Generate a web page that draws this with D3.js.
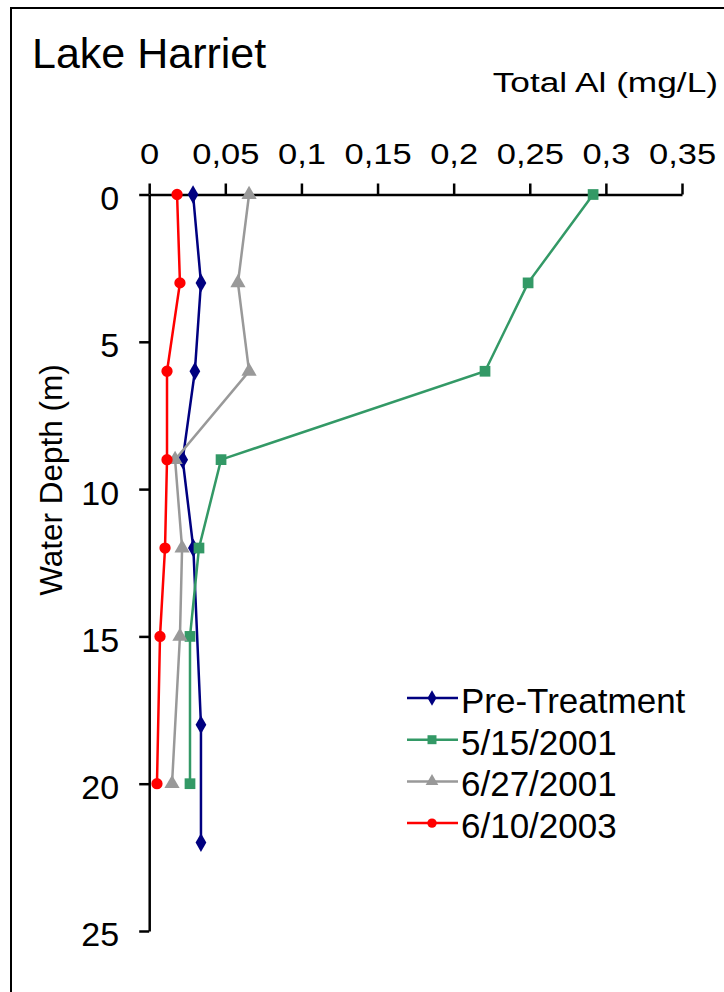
<!DOCTYPE html>
<html>
<head>
<meta charset="utf-8">
<script src="https://cdn.jsdelivr.net/npm/d3@7"></script>
<style>
  body { margin: 0; background: #fff; }
  svg { font-family: "Liberation Sans", Arial, sans-serif; }
</style>
</head>
<body>
<div id="chart"></div>
<script>
// Chart data
const title = 'Lake Harriet';
const xTitle = 'Total Al (mg/L)';
const yTitle = 'Water Depth (m)';
const xTicks = [0, 0.05, 0.1, 0.15, 0.2, 0.25, 0.3, 0.35];
const yTicks = [0, 5, 10, 15, 20, 25];

const seriesNames = ['Pre-Treatment', '5/15/2001', '6/27/2001', '6/10/2003'];
const preDepth = [0, 3, 6, 9, 12, 18, 22];
const preAl = [0.0288, 0.034, 0.030, 0.022, 0.029, 0.034, 0.034];
const mayDepth = [0, 3, 6, 9, 12, 15, 20];
const mayAl = [0.2916, 0.2489, 0.2206, 0.0472, 0.0327, 0.0268, 0.0268];
const juneDepth = [0, 3, 6, 9, 12, 15, 20];
const juneAl = [0.0656, 0.0583, 0.0656, 0.017, 0.0216, 0.0202, 0.015];
const y2003Depth = [0, 3, 6, 9, 12, 15, 20];
const y2003Al = [0.0183, 0.0202, 0.0117, 0.0117, 0.0104, 0.0071, 0.0051];

const W = 724, H = 992;
const m = {left: 149.2, right: 682, top: 194.5, bottom: 931};
const colors = ['#000080', '#339966', '#999999', '#ff0000'];
const shapes = [d3.symbolDiamond, d3.symbolSquare, d3.symbolTriangle, d3.symbolCircle];
const sizes = [100, 115, 100, 100];

const series = [
  {depth: preDepth, al: preAl},
  {depth: mayDepth, al: mayAl},
  {depth: juneDepth, al: juneAl},
  {depth: y2003Depth, al: y2003Al}
].map((s, i) => ({
  name: seriesNames[i], color: colors[i], shape: shapes[i], size: sizes[i],
  points: s.depth.map((d, j) => ({depth: d, al: s.al[j]}))
}));

const x = d3.scaleLinear().domain([0, 0.35]).range([m.left, m.right]);
const y = d3.scaleLinear().domain([0, 25]).range([m.top, m.bottom]);

const svg = d3.select('#chart').append('svg')
  .attr('width', W)
  .attr('height', H);

// frame around chart area (runs off the right and bottom edge)
svg.append('rect')
  .attr('x', 11).attr('y', 8)
  .attr('width', W + 20).attr('height', H + 20)
  .style('fill', 'none')
  .style('stroke', '#000')
  .style('stroke-width', 2);

svg.append('text')
  .attr('x', 32).attr('y', 68)
  .style('font-size', '43px')
  .text(title);

// x axis at top
const xAxis = svg.append('g')
  .attr('transform', 'translate(' + [0, m.top] + ')')
  .call(d3.axisTop(x).tickValues(xTicks).tickSize(11).tickSizeOuter(0)
    .tickFormat(d => d3.format('')(d).replace('.', ',')));
xAxis.selectAll('text')
  .attr('y', -31).attr('dy', 0)
  .attr('transform', 'scale(1.15,1)')
  .style('font-size', '30px')
  .style('fill', '#000');

svg.append('text')
  .attr('transform', 'translate(718,92) scale(1.26,1)')
  .attr('text-anchor', 'end')
  .style('font-size', '28px')
  .text(xTitle);

// y axis on left
const yAxis = svg.append('g')
  .attr('transform', 'translate(' + [m.left, 0] + ')')
  .call(d3.axisLeft(y).tickValues(yTicks).tickSize(10).tickSizeOuter(0));
yAxis.selectAll('text')
  .attr('x', -30).attr('dy', '0.44em')
  .style('font-size', '34px')
  .style('fill', '#000');

[xAxis, yAxis].forEach(a => {
  a.select('.domain').style('stroke', '#000').style('stroke-width', 2.5);
  a.selectAll('.tick line').style('stroke', '#000').style('stroke-width', 2.5);
});

svg.append('text')
  .attr('transform', 'translate(62,480) rotate(-90)')
  .attr('text-anchor', 'middle')
  .style('font-size', '31.5px')
  .text(yTitle);

// series
const line = d3.line().x(d => x(d.al)).y(d => y(d.depth));
const plot = svg.append('g').attr('class', 'series');

series.forEach(s => {
  const g = plot.append('g');
  g.append('path')
    .attr('d', line(s.points))
    .style('fill', 'none')
    .style('stroke', s.color)
    .style('stroke-width', 2.5);
  g.selectAll('path.marker')
    .data(s.points)
    .enter()
    .append('path')
    .attr('class', 'marker')
    .attr('transform', d => 'translate(' + [x(d.al), y(d.depth)] + ')')
    .attr('d', d3.symbol().type(s.shape).size(s.size))
    .style('fill', s.color);
});

// legend
const legend = svg.append('g')
  .attr('transform', 'translate(407,698)');
const items = legend.selectAll('g.item')
  .data(series)
  .enter()
  .append('g')
  .attr('class', 'item')
  .attr('transform', (d, i) => 'translate(' + [0, i * 41.7] + ')');
items.append('line')
  .attr('x1', 0).attr('x2', 51)
  .style('stroke', d => d.color)
  .style('stroke-width', 2.5);
items.append('path')
  .attr('transform', 'translate(25,0)')
  .attr('d', d => d3.symbol().type(d.shape).size(d.size * 0.7)())
  .style('fill', d => d.color);
items.append('text')
  .attr('x', 54).attr('y', 15)
  .style('font-size', '35px')
  .text(d => d.name);
</script>
</body>
</html>
